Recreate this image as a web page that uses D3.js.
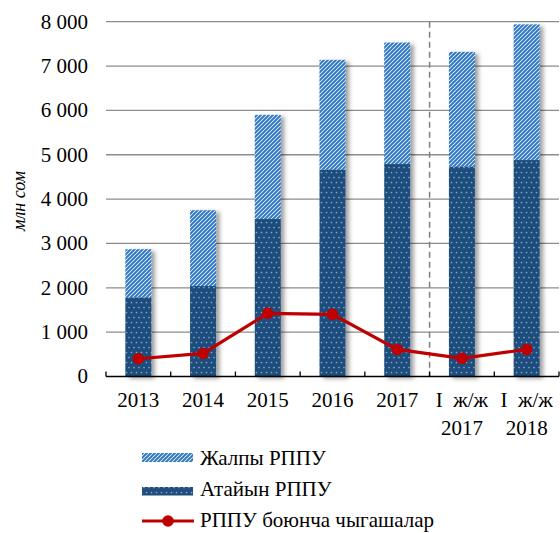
<!DOCTYPE html>
<html>
<head>
<meta charset="utf-8">
<script src="https://cdn.jsdelivr.net/npm/d3@7"></script>
<style>
  html, body { margin: 0; padding: 0; background: #fff; }
</style>
</head>
<body>
<svg id="chart" width="560" height="533"></svg>
<script>
// ---- data ----
const categories = [["2013"], ["2014"], ["2015"], ["2016"], ["2017"], ["I  ж/ж", "2017"], ["I  ж/ж", "2018"]];
const totalValues = [2870, 3750, 5900, 7140, 7530, 7320, 7940];       // Жалпы РППУ
const specialValues = [1780, 2040, 3550, 4660, 4790, 4730, 4880];     // Атайын РППУ
const expenseValues = [400, 520, 1425, 1400, 610, 410, 610];          // РППУ боюнча чыгашалар
const yTicks = [0, 1000, 2000, 3000, 4000, 5000, 6000, 7000, 8000];
const seriesNames = ["Жалпы РППУ", "Атайын РППУ", "РППУ боюнча чыгашалар"];
const yTitle = "млн сом";

(function () {
const svg = d3.select("#chart");
const defs = svg.append("defs");

// stripes pattern
const stripe = defs.append("pattern").attr("id", "stripes")
  .attr("patternUnits", "userSpaceOnUse").attr("width", 4).attr("height", 4);
stripe.append("rect").attr("width", 4).attr("height", 4).attr("fill", "#fff");
stripe.append("path").attr("d", "M-1,1 l2,-2 M0,4 l4,-4 M3,5 l2,-2")
  .attr("stroke", "#2f78c4").attr("stroke-width", 2);

// dotted pattern
const dots = defs.append("pattern").attr("id", "dots")
  .attr("patternUnits", "userSpaceOnUse").attr("width", 5).attr("height", 10);
dots.append("rect").attr("width", 5).attr("height", 10).attr("fill", "#1f4e7c");
dots.append("circle").attr("cx", 1.5).attr("cy", 2.5).attr("r", 0.85).attr("fill", "#86a7cb");
dots.append("circle").attr("cx", 4).attr("cy", 7.5).attr("r", 0.85).attr("fill", "#86a7cb");

// shadow
const f = defs.append("filter").attr("id", "shadow").attr("x", "-30%").attr("y", "-10%").attr("width", "180%").attr("height", "130%");
f.append("feDropShadow").attr("dx", 3.5).attr("dy", 2).attr("stdDeviation", 2)
  .attr("flood-color", "#000").attr("flood-opacity", 0.38);

const pLeft = 106, pRight = 559, pTop = 21.7, pBottom = 376.5;
const x = d3.scaleBand().domain(d3.range(categories.length)).range([pLeft, pRight]).padding(0);
const y = d3.scaleLinear().domain([0, 8000]).range([pBottom, pTop]);
const barW = 26;
const FS = "21px";

const txt = (sel) => sel.style("font-family", "Liberation Serif").style("fill", "#000");

// gridlines
svg.append("g").selectAll("line").data(yTicks.filter(d => d > 0)).join("line")
  .attr("x1", pLeft).attr("x2", pRight)
  .attr("y1", d => y(d)).attr("y2", d => y(d))
  .attr("stroke", "#8c8c8c").attr("stroke-width", 1.3);

// y labels
const fmt = d => d === 0 ? "0" : d3.format(",")(d).replace(",", " ");
svg.append("g").selectAll("text").data(yTicks).join("text")
  .call(txt)
  .attr("x", 88).attr("y", d => y(d)).attr("dy", "0.33em")
  .attr("text-anchor", "end").style("font-size", FS)
  .text(fmt);

// y title
svg.append("text").call(txt)
  .attr("transform", "translate(25,201) rotate(-90)")
  .attr("text-anchor", "middle").style("font-size", "18px").style("font-style", "italic")
  .text(yTitle);

// dashed separator
svg.append("line")
  .attr("x1", x(5)).attr("x2", x(5)).attr("y1", pTop).attr("y2", pBottom)
  .attr("stroke", "#7f7f7f").attr("stroke-width", 1.5).attr("stroke-dasharray", "6,4");

// bars
const bars = svg.append("g");
categories.forEach((c, i) => {
  const cx = x(i) + x.bandwidth() / 2;
  const g = bars.append("g").attr("filter", "url(#shadow)");
  g.append("rect").attr("x", cx - barW / 2).attr("width", barW)
    .attr("y", y(totalValues[i])).attr("height", y(specialValues[i]) - y(totalValues[i]))
    .attr("fill", "url(#stripes)");
  g.append("rect").attr("x", cx - barW / 2).attr("width", barW)
    .attr("y", y(specialValues[i])).attr("height", y(0) - y(specialValues[i]))
    .attr("fill", "url(#dots)");
});

// x axis
svg.append("line").attr("x1", pLeft).attr("x2", pRight).attr("y1", pBottom).attr("y2", pBottom)
  .attr("stroke", "#000").attr("stroke-width", 1.3);
svg.append("g").selectAll("line").data(d3.range(categories.length + 1)).join("line")
  .attr("x1", i => pLeft + i * x.bandwidth()).attr("x2", i => pLeft + i * x.bandwidth())
  .attr("y1", pBottom).attr("y2", pBottom - 5)
  .attr("stroke", "#000").attr("stroke-width", 1.3);

// x labels
categories.forEach((c, i) => {
  const cx = x(i) + x.bandwidth() / 2;
  c.forEach((line, j) => {
    svg.append("text").call(txt).attr("x", cx).attr("y", 407 + j * 28)
      .attr("text-anchor", "middle").style("font-size", FS)
      .style("white-space", "pre")
      .text(line);
  });
});

// line
const lineGen = d3.line().x((d, i) => x(i) + x.bandwidth() / 2).y(d => y(d));
svg.append("path").datum(expenseValues).attr("d", lineGen)
  .attr("fill", "none").attr("stroke", "#c00000").attr("stroke-width", 3.2);
svg.append("g").selectAll("circle").data(expenseValues).join("circle")
  .attr("cx", (d, i) => x(i) + x.bandwidth() / 2).attr("cy", d => y(d))
  .attr("r", 5.8).attr("fill", "#c00000");

// legend
const lg = svg.append("g");
lg.append("rect").attr("x", 142).attr("y", 453).attr("width", 51).attr("height", 9).attr("fill", "url(#stripes)");
lg.append("text").call(txt).attr("x", 200).attr("y", 465).style("font-size", FS).text(seriesNames[0]);
lg.append("rect").attr("x", 142).attr("y", 487).attr("width", 51).attr("height", 8.5).attr("fill", "url(#dots)");
lg.append("text").call(txt).attr("x", 200).attr("y", 496).style("font-size", FS).text(seriesNames[1]);
lg.append("line").attr("x1", 142).attr("x2", 194).attr("y1", 521).attr("y2", 521)
  .attr("stroke", "#c00000").attr("stroke-width", 3.2);
lg.append("circle").attr("cx", 168).attr("cy", 521).attr("r", 5.8).attr("fill", "#c00000");
lg.append("text").call(txt).attr("x", 200).attr("y", 527).style("font-size", FS).text(seriesNames[2]);
})();
</script>
</body>
</html>
